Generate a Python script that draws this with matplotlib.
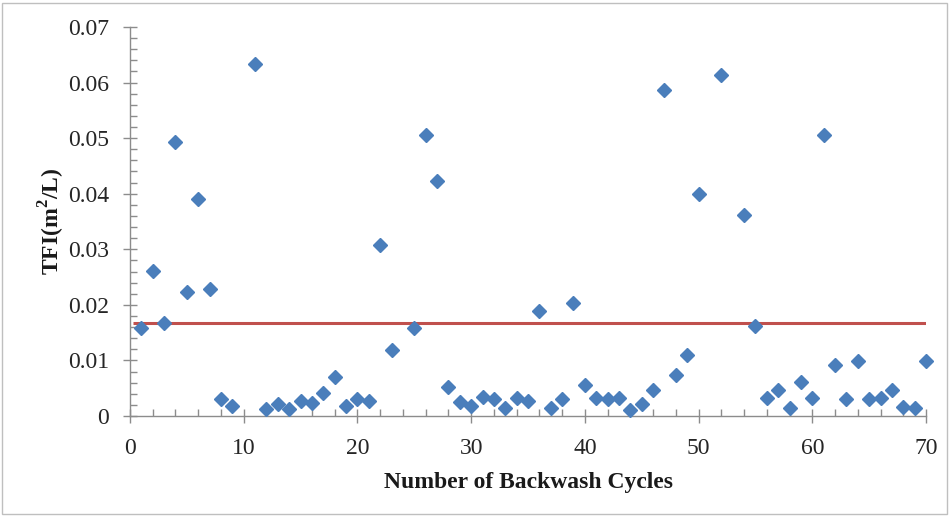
import matplotlib
matplotlib.use("Agg")
import matplotlib.pyplot as plt
from matplotlib.patches import Rectangle
from matplotlib.ticker import MultipleLocator

cycles = [1, 2, 3, 4, 5, 6, 7, 8, 9, 11, 12, 13, 14, 15, 16, 17, 18, 19, 20, 21,
          22, 23, 25, 26, 27, 28, 29, 30, 31, 32, 33, 34, 35, 36, 37, 38, 39, 40,
          41, 42, 43, 44, 45, 46, 47, 48, 49, 50, 52, 54, 55, 56, 57, 58, 59, 60,
          61, 62, 63, 64, 65, 66, 67, 68, 69, 70]
tfi = [0.0159, 0.0261, 0.0168, 0.0493, 0.0223, 0.0391, 0.0228, 0.0030, 0.0018,
       0.0633, 0.0013, 0.0021, 0.0013, 0.0027, 0.0024, 0.0041, 0.0071, 0.0018,
       0.0030, 0.0027, 0.0308, 0.0119, 0.0159, 0.0506, 0.0423, 0.0052, 0.0026,
       0.0018, 0.0035, 0.0031, 0.0014, 0.0033, 0.0027, 0.0189, 0.0014, 0.0030,
       0.0203, 0.0055, 0.0032, 0.0030, 0.0032, 0.0011, 0.0021, 0.0047, 0.0586,
       0.0074, 0.0110, 0.0399, 0.0614, 0.0361, 0.0162, 0.0033, 0.0047, 0.0014,
       0.0061, 0.0033, 0.0506, 0.0091, 0.0031, 0.0099, 0.0031, 0.0033, 0.0047,
       0.0017, 0.0014, 0.0099]
threshold = 0.0167
threshold_span = [0.3, 70.4]

serif = ["Liberation Serif", "DejaVu Serif"]
plt.rcParams["font.family"] = serif

fig = plt.figure(figsize=(9.51, 5.16), dpi=100)
fig.patches.append(Rectangle((2 / 951, 2 / 516), 945 / 951, 511 / 516,
                             transform=fig.transFigure, fill=False,
                             edgecolor="#BFBFBF", linewidth=1.0))

ax = fig.add_axes([130 / 951, 1 - 416 / 516, 796 / 951, 389 / 516])
ax.hlines(threshold, threshold_span[0], threshold_span[1], color="#C0504D",
          linewidth=2.2, zorder=2)
ax.plot(cycles, tfi, linestyle="none", marker="D", markersize=6.8,
        color="#4A7EBB", markeredgecolor="#4A7EBB", zorder=3, clip_on=False)

ax.set_xlim(0, 70)
ax.set_ylim(0, 0.07)
ax.xaxis.set_major_locator(MultipleLocator(10))
ax.xaxis.set_minor_locator(MultipleLocator(2))
ax.yaxis.set_major_locator(MultipleLocator(0.01))
ax.yaxis.set_minor_locator(MultipleLocator(0.002))
ax.yaxis.set_major_formatter(plt.FuncFormatter(lambda v, p: "0" if abs(v) < 1e-9 else f"{v:.2f}"))

for s in ["top", "right"]:
    ax.spines[s].set_visible(False)
for s in ["left", "bottom"]:
    ax.spines[s].set_color("#8C8C8C")
    ax.spines[s].set_linewidth(1.0)

ax.tick_params(which="major", direction="inout", length=10, width=1.0,
               color="#8C8C8C", labelsize=17, labelcolor="#262626")
ax.tick_params(which="minor", direction="in", length=5, width=1.0, color="#8C8C8C")
ax.tick_params(axis="y", which="major", pad=10)
ax.tick_params(axis="x", which="major", pad=11)

ax.set_xlabel("Number of Backwash Cycles", fontsize=17, fontweight="bold",
              color="#1a1a1a", labelpad=9)
ax.set_ylabel("TFI(m$^\\mathregular{2}$/L)", fontsize=17, fontweight="bold",
              color="#1a1a1a", labelpad=1)

fig.savefig("out.png", dpi=100)
